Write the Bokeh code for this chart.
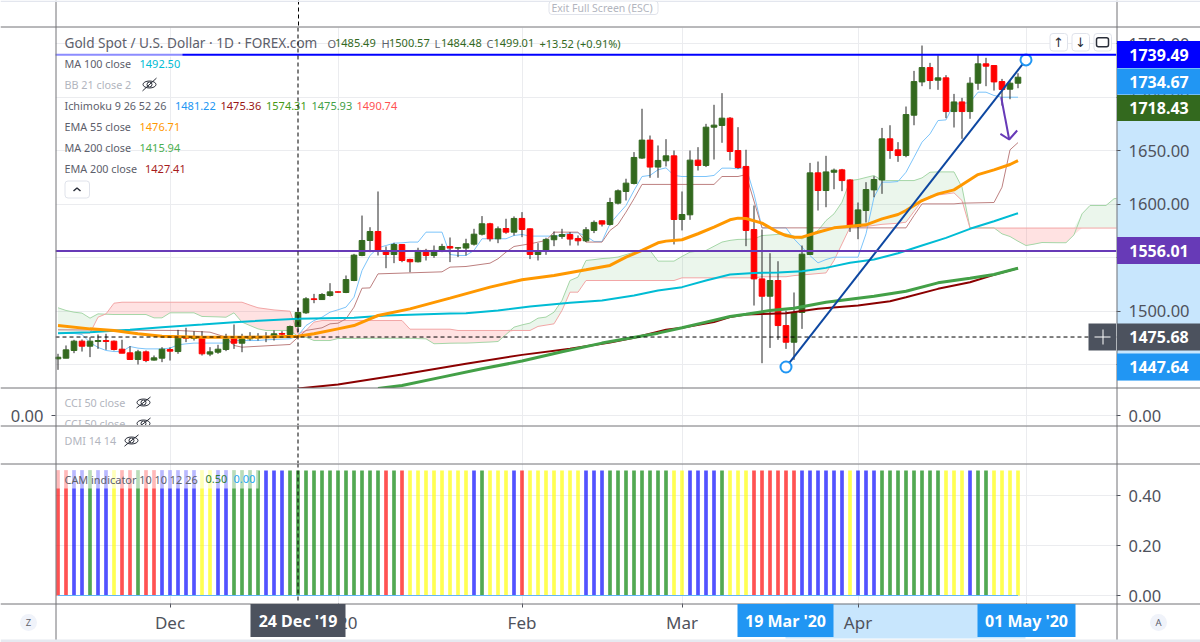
from bokeh.embed import file_html
from bokeh.resources import INLINE
from bokeh.core.properties import value
from bokeh.layouts import column
from bokeh.models import (BoxAnnotation, ColumnDataSource, FixedTicker, Grid, Label, LinearAxis,
                          NumeralTickFormatter, Range1d, Span)
from bokeh.plotting import figure
import numpy as np

opens = [1455.3,1455.9,1463.1,1471.8,1467.1,1471.5,1472.4,1471.8,1464.3,1460.9,
1454.7,1461.8,1454.1,1455.9,1464,1462.1,1475.5,1474.3,1474.9,1459.7,
1461.5,1464,1474,1469.9,1474,1474.9,1475.5,1476.8,1479,1478,
1485.5,1498.3,1511.4,1510.7,1514.5,1517.9,1517.3,1528.5,1551.9,1565.9,
1574.3,1556.5,1552.8,1562.1,1548.2,1546,1556.6,1551.9,1556.6,1560.3,
1558.8,1558.8,1562.5,1571.8,1581.5,1567.5,1577.1,1573.7,1586.5,1576.8,
1552.8,1556,1566.6,1569.7,1571.5,1567.8,1565.6,1575.3,1584.3,1580.9,
1600.8,1611.7,1619.2,1642.9,1659.7,1634.5,1640.4,1645,1585.5,1589.9,
1641,1636,1671.8,1673.4,1680.2,1650,1635.1,1576.1,1530,1513.8,
1528.5,1486.4,1470.8,1498.6,1552.8,1629.1,1612.6,1629.7,1631.9,1622.5,
1578.9,1593.9,1613.2,1622.5,1660.9,1650.6,1645.3,1683,1714.1,1727.5,
1715.7,1717.9,1686.4,1695.4,1686.4,1712.9,1731,1729.4,1714.4,1707.3,
1712.9]
highs = [1460,1467.8,1473.1,1473.4,1475.5,1478,1478.7,1472.4,1473.1,1467.1,
1463.7,1463.1,1458.4,1466.2,1466,1482.4,1484.3,1481.1,1481.1,1466.2,
1468.4,1478.7,1487.4,1478.7,1480.2,1479.3,1480.2,1481.8,1481.1,1486.4,
1503,1512.9,1516,1516.7,1526,1518.2,1533.2,1553.4,1589.2,1578.3,
1611.7,1560.3,1563.7,1562.1,1548.8,1559.1,1558.1,1561.2,1562.8,1568.7,
1559.7,1567.5,1576.8,1588.7,1582.4,1579,1586.2,1588.4,1592.4,1577.1,
1563.4,1568.4,1574.3,1576.8,1573.7,1570.6,1578.4,1584.6,1584.6,1605.8,
1613.6,1623.6,1648.5,1689,1664,1654.7,1660.6,1650,1611.7,1650,
1653.1,1674.9,1692.7,1703.6,1681.2,1671.8,1650.7,1598.6,1576.1,1554,
1546.5,1500.4,1517.3,1561.2,1638.4,1639.7,1645,1633.1,1632.8,1623.2,
1601.4,1620.4,1626,1671.1,1673.6,1657.8,1691.1,1724.4,1748.1,1731.9,
1739,1720.4,1702.9,1699.2,1718.5,1739.7,1736.6,1729.4,1716.9,1716,
1722.2]
lows = [1445,1455.9,1460.6,1462.1,1456.9,1464.6,1463.7,1463.1,1460.6,1454.4,
1450,1452.2,1453.7,1452.2,1453.7,1460,1470.9,1472.4,1458.4,1457.8,
1460,1462.5,1464.6,1461.5,1472.4,1472.4,1470.9,1472.4,1476.2,1476.2,
1480.2,1497.3,1507.3,1510.4,1513.5,1517.3,1516.7,1527.9,1551.2,1555,
1551.9,1540,1544.7,1545.6,1536.3,1545.4,1547.2,1549.7,1555,1545.7,
1550.4,1551.9,1561.2,1570.6,1565,1563.4,1572.2,1570.6,1569,1548.5,
1547.2,1552.5,1560.6,1567.5,1561.2,1561.2,1564.4,1572.8,1579,1579.9,
1599.6,1603.3,1618.3,1642.2,1624.5,1624.5,1635.1,1562.2,1575.3,1585.2,
1631.3,1634.5,1641.6,1657.2,1640.7,1632.9,1560.6,1505.1,1451.2,1465.5,
1473,1464.6,1454.3,1483.3,1552.8,1593.9,1597,1613.8,1612,1573.9,
1567.1,1582.7,1606.3,1609.5,1642.2,1639.4,1643.7,1673.6,1710.1,1707.3,
1706.7,1680.2,1671.5,1660.9,1679.6,1706.7,1710.1,1706,1692,1697.9,
1708.2]
closes = [1456.8,1463.7,1471.8,1467.1,1471.8,1472.4,1471.5,1464,1460.6,1454.7,
1461.8,1453.7,1456.2,1464.3,1462.5,1475.5,1474.6,1475.5,1460,1461.8,
1464.3,1474,1469.9,1474,1476.2,1476.2,1476.2,1478.7,1478.3,1485.5,
1498.6,1511.4,1510.7,1515.4,1517.9,1517.6,1529.4,1552.2,1565.9,1574.3,
1556.5,1552.8,1562.1,1547.2,1546,1556.6,1551.9,1556.6,1560.3,1558.8,
1559.1,1562.8,1571.8,1581.5,1567.5,1576.8,1573.7,1586.5,1576.2,1552.8,
1556.3,1566.9,1570.3,1571.5,1567.2,1565.6,1575.9,1582.8,1581.2,1601.4,
1612.3,1619.5,1643.5,1659.7,1634.5,1640.7,1645,1585.5,1590.2,1641,
1636,1671.8,1673.7,1680.2,1649.1,1634.1,1575.3,1530,1513.8,1528.5,
1486.4,1470.8,1498.6,1553.1,1629.1,1612.6,1630,1631.6,1621.9,1578.9,
1594.5,1613.5,1622.9,1660.9,1650,1645.3,1683.6,1714.4,1727.5,1715.4,
1717.9,1686.4,1695.4,1686.4,1712.9,1731,1728.8,1714.1,1707,1712.9,
1718.5]

tenkan = [1479.3,1479,1479,1478,1470.6,1466,1463.1,1462.1,1462.1,1466.8,
1465.3,1464.6,1464.6,1464.6,1465.3,1468.4,1469.3,1470,1470,1470,
1470,1470,1472.4,1472.4,1472.4,1472.4,1473.1,1473.4,1473.7,1474,
1477.1,1486.4,1491.1,1494.2,1498.9,1501.1,1503.6,1512.9,1537.8,1551.9,
1559,1561.2,1563.4,1563.7,1564.4,1564.4,1573.7,1573.7,1573.7,1552.8,
1551.9,1551.9,1556.6,1567.5,1567.5,1567.5,1567.5,1570.6,1571.5,1570,
1570,1570,1570,1570.6,1573.1,1573.1,1570,1565,1565,1581.5,
1590.2,1598.6,1612.6,1625.7,1626.7,1632,1633.8,1626.7,1625.7,1625.7,
1625.7,1625.7,1626.7,1633.5,1633.5,1632.9,1634.4,1609.5,1577.7,1577.7,
1577.7,1577.7,1567.4,1559.6,1551.8,1545,1548.1,1550.3,1550.3,1550.3,
1550.3,1572.1,1606.3,1620.4,1620.4,1621,1629.7,1643.7,1657.8,1665.5,
1678,1678.6,1693.6,1693.6,1695.1,1704.5,1704.5,1701.4,1699.8,1699.8,
1699.8]
kijun_x = [0,15,19,21,22,23,29,30,31,33,34,35,36,37,38,39,40,48,49,51,54,55,56,57,59,61,62,65,66,68,69,70,71,72,73,82,83,85,86,88,106,107,108,112,113,117,118,119,120]
kijun = [1482.4,1481.8,1480.2,1475.5,1467.8,1466.2,1468.7,1475.5,1481.8,1484.3,1488,1488.6,1492.7,1503.6,1521.3,1521.6,1534.7,1536.6,1541,1541.6,1544.7,1548.8,1555,1560.3,1562.8,1565.9,1573.7,1573.7,1564.4,1564.4,1575.3,1580.9,1592.4,1604.9,1618.3,1618.3,1625.7,1625.7,1627.5,1577.7,1577.7,1589.2,1600.1,1600.1,1600.8,1601.4,1615.7,1650.6,1657.4]
span_a = [1503,1500.5,1498.9,1498,1493.3,1497.3,1497,1496.7,1496.7,1496.7,
1496.7,1496.7,1493.6,1493.6,1498.3,1498.3,1498.3,1498.3,1494.9,1494.7,
1494.5,1494.2,1498.3,1489.6,1486.4,1483.3,1481.8,1481.8,1481.8,1481.8,
1476.2,1475.5,1472.4,1472.4,1472.4,1474.3,1474.3,1474.4,1474.4,1474.5,
1474.5,1474.5,1474.5,1474.5,1474.5,1474.2,1474,1469.4,1469.6,1469.9,
1470,1470,1470.3,1470.7,1471,1471.5,1478,1484.9,1487,1488.7,
1493.3,1494.3,1498.9,1509.9,1528.5,1531.7,1547.2,1548,1549,1549.5,
1550.4,1552.7,1555,1556,1556.6,1546.6,1546.6,1546.6,1551,1555,
1556,1556.6,1560.5,1564.4,1566,1566.9,1567,1567.4,1570.5,1571,
1571.6,1572.1,1570,1567.4,1571,1575.2,1584.5,1590.8,1601.7,1621.9,
1622.9,1624.8,1626.6,1621.9,1621.9,1621.9,1621.9,1621.9,1624.4,1629.7,
1630,1630,1630,1615.7,1577.7,1577.7,1577.7,1577.7,1572.1,1569.6,
1565.2,1561.2,1562.5,1564,1563.9,1563.8,1563.8,1571.2,1590.8,1598.6,
1598.6,1598.6,1604.9,1606]
span_b = [1479.3,1479.3,1479.3,1479.3,1479.3,1494.2,1497.3,1507.3,1508.2,1508.2,
1508.2,1508.2,1508.2,1508.2,1508.2,1508.2,1508.2,1508.2,1508.2,1508.2,
1508.2,1508.2,1508.2,1508.2,1505.5,1503,1502,1501,1500.4,1499.8,
1478.7,1481.8,1489.6,1491.1,1491.1,1491.1,1491.1,1491.1,1491.1,1491.1,
1491.1,1491.1,1491.1,1491.1,1483,1483,1483,1483,1483,1483,
1481.8,1481.8,1481.8,1481.8,1481.8,1481.8,1481.8,1481.8,1481.8,1481.8,
1485.6,1486.8,1488,1500.5,1517.6,1517.6,1528.5,1528.5,1528.5,1528.5,
1528.5,1528.5,1528.5,1528.5,1528.5,1528.5,1528.5,1528.5,1531,1531,
1531,1531,1531,1531,1531,1531,1531,1531,1532,1532,
1532,1532,1533.1,1533.7,1534.3,1535,1535.6,1547.2,1562.7,1578.3,
1578.3,1579,1580,1581,1581.5,1582,1583,1593,1603.2,1607.3,
1608.4,1609.4,1610.4,1603.2,1577.5,1577.5,1577.5,1577.5,1577.5,1577.5,
1577.5,1577.5,1577.5,1577.5,1577.5,1577.5,1577.5,1577.5,1577.5,1577.5,
1577.5,1577.5,1577.5,1577.5]
ema55_x = [0,4,7,10,13,18,24,30,32,35,37,39,40,44,49,54,58,62,66,69,71,73,75,76,78,80,82,84,85,86,88,90,91,92,93,95,97,99,101,103,105,106,107,108,110,112,113,115,117,119,120]
ema55 = [1486.4,1483.3,1481.8,1478.7,1476.5,1475.5,1475.5,1476.5,1478.7,1483.3,1486.4,1492.7,1495.8,1502,1512,1522.3,1529.2,1533.2,1538.5,1542.6,1550.4,1556.6,1563.7,1565.3,1566.6,1572.2,1578.4,1585.2,1586.8,1586.5,1582.1,1573.6,1570.5,1569,1569,1573.6,1577.7,1579.2,1580.5,1586.1,1590.2,1593.9,1598.6,1603.2,1609.5,1613.2,1617.9,1627.5,1631.9,1636.9,1640.6]
ma100_x = [0,4,9,13,18,22,30,37,41,49,51,55,59,64,68,72,75,78,81,84,87,90,93,96,99,102,105,108,111,114,117,120]
ma100 = [1479.3,1480.2,1482.4,1484.9,1487.4,1489.6,1492.7,1493.6,1495.8,1497.7,1498,1500.5,1504.2,1507.7,1509.9,1514.5,1519.2,1522.3,1528.5,1534.2,1535.6,1536,1537.2,1540.3,1545,1548.1,1554,1561.2,1568.3,1576.8,1583.9,1591.4]
ma200_x = [40,43,48,53,58,63,68,71,75,78,81,84,86,89,92,96,100,102,106,110,114,117,120]
ma200 = [1427.6,1430.4,1438.2,1446,1453.2,1461.9,1470,1474,1479.3,1484.3,1489.6,1494.9,1497,1500.4,1502.6,1508.2,1512,1513.8,1518.5,1526.3,1530.6,1534.1,1540]
ema200_x = [30,35,43,51,58,64,69,72,76,78,82,84,86,88,91,95,100,104,106,110,114,117,120]
ema200 = [1427.6,1431.3,1440.7,1450.7,1459,1464.7,1470.6,1475,1482.4,1484.3,1489.6,1494.3,1496.8,1497.3,1498,1502,1505.1,1509.2,1512.9,1520.7,1526.9,1533.8,1540]

level_blue = 1739.49
level_purple = 1556.01
cross_price = 1475.68
trend_x = [91, 121]
trend_y = [1447.64, 1734.67]
arrow_x = [117.9, 118.9]
arrow_y = [1699.8, 1660.3]
head_x = [117.8, 118.9, 119.9]
head_y = [1665.6, 1660.3, 1668.7]

cam_state = list("RRBBGBBYRRGRRBBBBBYYBBGGGGBBBGGGGGGGGGGGGRGR"
                 "YYYYYYYYBGYYYBRYYYYYYYBBBGGGGGGGGYYBBBBGYYY"
                 "RRRRRRBBBBBBYBBBGGGGGGGGYYYBGGYYYY")
cam_value = 0.5
cam_colors = {"R": "#ff0000", "B": "#0000ff", "G": "#008000", "Y": "#ffff00"}

month_ticks = [14, 35, 58, 78, 100, 121]
month_labels = ["Dec", "2020", "Feb", "Mar", "Apr", "May"]
price_ticks = [1450, 1500, 1550, 1600, 1650, 1700, 1750]
cam_ticks = [0, 0.2, 0.4]

FONT = "Noto Sans"
AX = "#4f525c"
KEY = "#5d606b"
MUTED = "#b2b5be"
RULE = "#737377"
GRID = "#ebecef"
HILITE = "#c8e6fd"
BLUE = "#2196f3"
SLATE = "#4c525e"


def X(px):
    return (px - 57.5) / 8


def P(py):
    return 1500 + (310.5 - py) / 1.07


def V2(py):
    return (415 - py) / 10


def V3(py):
    return (463 - py) / 38


def C(py):
    return (595 - py) / 250


xr = Range1d(X(55), X(1116))


def make(height, yr, top=0, bottom=0, yloc=None):
    f = figure(width=1200, height=height, x_range=xr, y_range=yr, output_backend="svg", toolbar_location=None,
               x_axis_location=None, y_axis_location=yloc, min_border_left=55, min_border_right=84,
               min_border_top=top, min_border_bottom=bottom, background_fill_color="white",
               border_fill_color=None, outline_line_color=None)
    f.xgrid.visible = False
    f.ygrid.visible = False
    f.add_layout(Grid(dimension=0, ticker=FixedTicker(ticks=month_ticks), grid_line_color=GRID, grid_line_width=1))
    f.add_layout(Span(location=30, dimension="height", line_color="#000000", line_dash="4 3", line_width=1, level="overlay"))
    return f


def layer():
    f = figure(width=1200, height=642, x_range=Range1d(X(0), X(1200)), y_range=Range1d(P(642), P(0)),
               output_backend="svg", toolbar_location=None, x_axis_location=None, y_axis_location=None,
               min_border=0, min_border_left=0, min_border_right=0, min_border_top=0, min_border_bottom=0,
               background_fill_color=None, border_fill_color=None, outline_line_color=None)
    f.xgrid.visible = False
    f.ygrid.visible = False
    return f


def style_axis(ax):
    ax.axis_line_color = None
    ax.major_tick_line_color = AX
    ax.minor_tick_line_color = None
    ax.major_tick_in = 0
    ax.major_tick_out = 4
    ax.major_label_text_font = FONT
    ax.major_label_text_font_size = "16.5px"
    ax.major_label_text_color = AX
    ax.major_label_standoff = 8


def txt(f, px, y, s, color=KEY, size=10.8, align="left", style="normal", font=FONT):
    f.add_layout(Label(x=X(px), y=y, text=s, text_color=color, text_font_size=f"{size}px", text_baseline="middle",
                       text_align=align, text_font=font, text_font_style=style))


def eye(f, px, y, my, color="#2a2e39"):
    f.ellipse(x=[X(px)], y=[y], width=13, height=7, width_units="screen", height_units="screen",
              fill_color=None, line_color=color, line_width=1)
    f.circle(x=[X(px)], y=[y], radius=2.5, radius_units="screen", fill_color=None, line_color=color, line_width=1)
    f.line(x=[X(px - 7), X(px + 7)], y=[y - my, y + my], line_color=color, line_width=1)


# ---------- under layer: selection highlights behind the axis labels ----------
under = layer()


def under_box(x0, x1, y0, y1, color):
    under.quad(left=[X(x0)], right=[X(x1)], top=[P(y0)], bottom=[P(y1)], fill_color=color, line_color=None)


under_box(1116, 1200, 67, 380, HILITE)
under_box(785, 1025, 603, 638, HILITE)

# ---------- price pane ----------
price = make(388, Range1d(P(388), P(27)), top=27, yloc="right")
price.yaxis[0].ticker = FixedTicker(ticks=price_ticks)
price.yaxis[0].formatter = NumeralTickFormatter(format="0.00")
style_axis(price.yaxis[0])
price.add_layout(Grid(dimension=1, ticker=FixedTicker(ticks=price_ticks), grid_line_color=GRID, grid_line_width=1))

idx = np.arange(len(opens))
ahead = np.arange(len(span_a))
a = np.array(span_a)
b = np.array(span_b)
price.varea(x=ahead, y1=b, y2=np.maximum(a, b), fill_color="#4caf50", fill_alpha=0.11)
price.varea(x=ahead, y1=b, y2=np.minimum(a, b), fill_color="#ff5252", fill_alpha=0.17)
price.line(ahead, span_a, line_color="#a5d6a7", line_width=1)
price.line(ahead, span_b, line_color="#f2a6a6", line_width=1)
price.line(idx, tenkan, line_color="#7cc4fa", line_width=1)
price.line(kijun_x, kijun, line_color="#bd8080", line_width=1)

colors = ["#33691e" if c >= o else "#ff0000" for o, c in zip(opens, closes)]
src = ColumnDataSource(dict(x=idx, o=opens, h=highs, l=lows, c=closes, color=colors))
price.segment("x", "h", "x", "l", source=src, line_color="#262626", line_width=1)
price.vbar(x="x", top="o", bottom="c", width=0.7, source=src, fill_color="color", line_color="color", line_width=1)

price.line(ema200_x, ema200, line_color="#8b0000", line_width=2)
price.line(ma200_x, ma200, line_color="#43a047", line_width=3)
price.line(ma100_x, ma100, line_color="#00bcd4", line_width=2)
price.line(ema55_x, ema55, line_color="#ff9800", line_width=3)

price.add_layout(Span(location=level_blue, dimension="width", line_color="#0000ff", line_width=2))
price.add_layout(Span(location=level_purple, dimension="width", line_color="#673ab7", line_width=2))
price.add_layout(Span(location=cross_price, dimension="width", line_color="#000000", line_dash="4 3", line_width=1, level="overlay"))
price.add_layout(BoxAnnotation(left=X(55), right=X(182), top=P(52), bottom=P(56.5), fill_color="white", fill_alpha=0.55, line_color=None))

price.line(trend_x, trend_y, line_color="#0d47a1", line_width=2)
price.scatter(trend_x, trend_y, size=11, marker="circle", fill_color="white", line_color=BLUE, line_width=2)
price.line(arrow_x, arrow_y, line_color="#673ab7", line_width=2)
price.line(head_x, head_y, line_color="#673ab7", line_width=2)

# legend
txt(price, 64, P(42), "Gold Spot / U.S. Dollar · 1D · FOREX.com", size=13.6)
for px, s, color in [(327, "O", KEY), (334.5, "1485.49", "#33691e"), (381, "H", KEY), (388.5, "1500.57", "#33691e"),
                     (434, "L", KEY), (440.5, "1484.48", "#33691e"), (486, "C", KEY), (493, "1499.01", "#33691e"),
                     (539, "+13.52 (+0.91%)", "#33691e")]:
    txt(price, px, P(42.5), s, color=color, size=11)
txt(price, 64, P(63), "MA 100 close")
txt(price, 139, P(63), "1492.50", color="#00bcd4", size=11)
txt(price, 64, P(84), "BB 21 close 2", color=MUTED)
eye(price, 149, P(84), 6)
txt(price, 64, P(105), "Ichimoku 9 26 52 26")
for px, s, color in [(174.5, "1481.22", "#2196f3"), (220, "1475.36", "#991515"), (265.5, "1574.31", "#459915"),
                     (311, "1475.93", "#43a047"), (356, "1490.74", "#ff5252")]:
    txt(price, px, P(105), s, color=color, size=11)
txt(price, 64, P(126), "EMA 55 close")
txt(price, 139, P(126), "1476.71", color="#ff9800", size=11)
txt(price, 64, P(147), "MA 200 close")
txt(price, 139, P(147), "1415.94", color="#4caf50", size=11)
txt(price, 64, P(168), "EMA 200 close")
txt(price, 144.5, P(168), "1427.41", color="#a61c1c", size=11)

# ---------- CCI pane ----------
cci = make(37, Range1d(-1, 2.7))
cci.add_layout(Grid(dimension=1, ticker=FixedTicker(ticks=[0]), grid_line_color=GRID, grid_line_width=1))
for side in ("left", "right"):
    ax = LinearAxis(ticker=FixedTicker(ticks=[0]), formatter=NumeralTickFormatter(format="0.00"))
    style_axis(ax)
    cci.add_layout(ax, side)
txt(cci, 64, V2(402), "CCI 50 close", color=MUTED)
eye(cci, 143, V2(402), 0.55)
cci.text(x=[X(64)], y=[V2(423)], text=["CCI 50 close"], text_color=MUTED, text_font=value(FONT),
         text_font_size="10.8px", text_baseline="middle")
eye(cci, 143, V2(423), 0.55)

# ---------- DMI pane ----------
dmi = make(38, Range1d(0, 1))
txt(dmi, 64, V3(440), "DMI 14 14", color=MUTED)
eye(dmi, 131, V3(440), 0.15)

# ---------- CAM pane ----------
cam = make(179, Range1d(C(603), C(463)), bottom=39, yloc="right")
cam.yaxis[0].ticker = FixedTicker(ticks=cam_ticks)
cam.yaxis[0].formatter = NumeralTickFormatter(format="0.00")
style_axis(cam.yaxis[0])
cam.add_layout(Grid(dimension=1, ticker=FixedTicker(ticks=cam_ticks), grid_line_color=GRID, grid_line_width=1))
xaxis = LinearAxis(ticker=FixedTicker(ticks=month_ticks),
                   major_label_overrides={t: s for t, s in zip(month_ticks, month_labels)})
style_axis(xaxis)
xaxis.major_label_text_font_size = "17px"
xaxis.major_label_standoff = 3
cam.add_layout(xaxis, "below")

cam.vbar(x=idx, bottom=0, top=cam_value, width=0.46, fill_color=[cam_colors[s] for s in cam_state],
         line_color=None, fill_alpha=0.68)
cam.segment(x0=[0], y0=[0], x1=[120], y1=[0], line_color="#63b5f6", line_width=1)
cam.add_layout(BoxAnnotation(left=X(55), right=X(258), top=C(470), bottom=C(488), fill_color="white", fill_alpha=0.6, line_color=None))
txt(cam, 64, C(478.5), "CAM indicator 10 10 12 26", size=10.9)
txt(cam, 205, C(478.5), "0.50", color="#2e7d32", size=11)
txt(cam, 233, C(478.5), "0.00", color="#29a8f0", size=11)

# ---------- over layer: frame rules, axis tags, buttons ----------
over = layer()


def obox(x0, x1, y0, y1, color, line=None, radius=0):
    over.quad(left=[X(x0)], right=[X(x1)], top=[P(y0)], bottom=[P(y1)], fill_color=color, line_color=line,
              line_width=1, border_radius=radius)


def orule(x0, x1, y0, y1, color=RULE, dash="solid", width=1):
    over.line(x=[X(x0), X(x1)], y=[P(y0), P(y1)], line_color=color, line_dash=dash, line_width=width)


def otext(px, py, s, color="white", size=16, align="center", style="normal", font=FONT):
    over.text(x=[X(px)], y=[P(py)], text=[s], text_color=color, text_font=value(font), text_font_size=f"{size}px",
              text_align=align, text_baseline="middle", text_font_style=style)


for y in (26.5, 387.5, 425.5, 463.5, 603.5):
    orule(0, 1200, y, y)
orule(55.5, 55.5, 0, 642)
orule(1116.5, 1116.5, 0, 642)
orule(298, 298, 0, 27, color="#000000", dash="4 3")
obox(0, 1200, 0, 1.5, "#e3e6ee")
obox(0, 1200, 639, 642, "#e6e9f0")

obox(548.5, 657.5, 0.5, 14, "white", line="#e0e3eb", radius=3)
otext(601.5, 7.5, "Exit Full Screen (ESC)", color=MUTED, size=10.5)

obox(64.5, 89, 180.5, 197.5, "white", line="#e0e3eb", radius=3)
over.line(x=[X(73), X(76.5), X(80)], y=[P(190.5), P(187.5), P(190.5)], line_color="#2a2e39", line_width=1.5)
for x0, x1 in [(1049.5, 1067), (1071.5, 1089), (1093.5, 1111)]:
    obox(x0, x1, 33, 50.5, "white", line="#e0e3eb", radius=3)
otext(1058, 41.5, "↑", color="#2a2e39", size=13, font="DejaVu Sans")
otext(1080, 41.5, "↓", color="#2a2e39", size=13, font="DejaVu Sans")
over.rect(x=[X(1102)], y=[P(41.7)], width=12, height=9, width_units="screen", height_units="screen",
          fill_color=None, line_color="#2a2e39", line_width=1.5, border_radius=2)

for cy, half, s, color in [(54, 13.5, "1739.49", "#0000ff"), (81, 13, "1734.67", BLUE), (107.5, 13, "1718.43", "#33691e"),
                           (250, 13.5, "1556.01", "#673ab7"), (336.5, 13.5, "1475.68", SLATE), (366.5, 13.5, "1447.64", BLUE)]:
    obox(1116.5, 1200, cy - half, cy + half, color)
    otext(1158.5, cy, s, size=16, style="bold")
obox(1088, 1115.5, 323, 350, SLATE)
orule(1094, 1110, 336.5, 336.5, color="white")
orule(1102.5, 1102.5, 329, 344, color="white")

for x0, x1, s, color in [(250, 345, "24 Dec '19", SLATE), (737, 833, "19 Mar '20", BLUE), (977, 1075, "01 May '20", BLUE)]:
    obox(x0, x1, 603.5, 636.5, color)
    otext((x0 + x1) / 2, 620, s, size=16, style="bold")

for px, s in [(28, "Z"), (1158, "A")]:
    over.scatter(x=[X(px)], y=[P(622)], size=17, marker="circle", fill_color="#f0f3fa", line_color=None)
    otext(px, 622, s, color=KEY, size=9.5)

charts = column(price, cci, dmi, cam, spacing=0, margin=(-642, 0, 0, 0))
over.margin = (-642, 0, 0, 0)
page = column(under, charts, over, spacing=0)
open("out.html", "w").write(file_html(page, INLINE))
